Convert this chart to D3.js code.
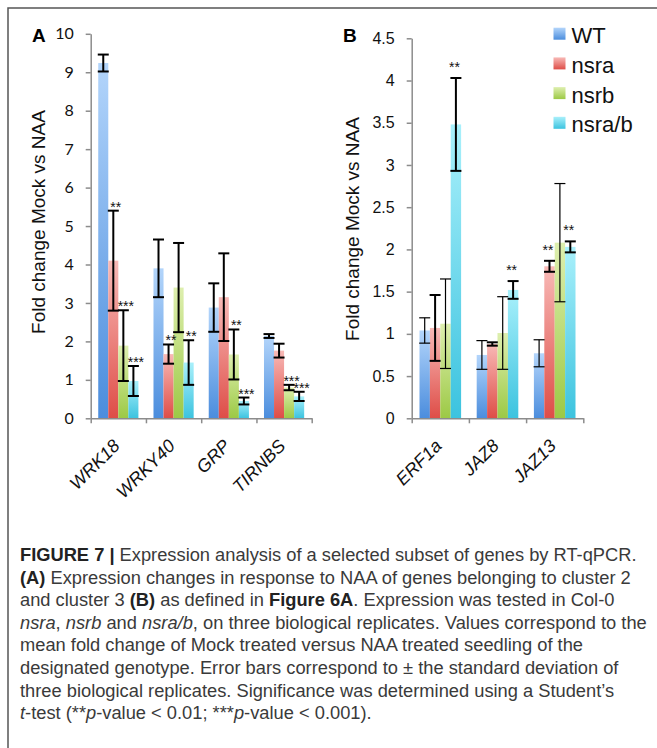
<!DOCTYPE html>
<html>
<head>
<meta charset="utf-8">
<script src="https://cdn.jsdelivr.net/npm/d3@7/dist/d3.min.js"></script>
<style>
  body { margin: 0; background: #fff; }
  svg text { font-family: "Liberation Sans", Arial, sans-serif; }
</style>
</head>
<body>
<svg id="fig" width="657" height="748"></svg>
<script>
// genotypes (legend order)
var series = ['WT', 'nsra', 'nsrb', 'nsra/b']

// panel A - cluster 2
var genesA = ['WRK18', 'WRKY40', 'GRP', 'TIRNBS']
var wtA    = [9.24, 3.90, 2.88, 2.14]
var nsraA  = [4.10, 1.67, 3.15, 1.76]
var nsrbA  = [1.89, 3.40, 1.66, 0.80]
var nsrabA = [0.97, 1.45, 0.45, 0.57]
var wtErrA    = [0.22, 0.75, 0.63, 0.05]
var nsraErrA  = [1.30, 0.25, 1.14, 0.18]
var nsrbErrA  = [0.92, 1.16, 0.65, 0.07]
var nsrabErrA = [0.39, 0.58, 0.09, 0.12]
var wtSigA    = ['', '', '', '']
var nsraSigA  = ['**', '**', '', '']
var nsrbSigA  = ['***', '', '**', '***']
var nsrabSigA = ['***', '**', '***', '***']
var ticksA = [0, 1, 2, 3, 4, 5, 6, 7, 8, 9, 10]

// panel B - cluster 3
var genesB = ['ERF1a', 'JAZ8', 'JAZ13']
var wtB    = [1.04, 0.75, 0.77]
var nsraB  = [1.07, 0.88, 1.80]
var nsrbB  = [1.12, 1.01, 2.08]
var nsrabB = [3.48, 1.52, 2.03]
var wtErrB    = [0.15, 0.17, 0.16]
var nsraErrB  = [0.39, 0.02, 0.065]
var nsrbErrB  = [0.53, 0.43, 0.70]
var nsrabErrB = [0.55, 0.105, 0.065]
var wtSigB    = ['', '', '']
var nsraSigB  = ['', '', '**']
var nsrbSigB  = ['', '', '']
var nsrabSigB = ['**', '**', '**']
var ticksB = [0, 0.5, 1, 1.5, 2, 2.5, 3, 3.5, 4, 4.5]

// bar fills: light top -> dark bottom
var gradColors = [
  ['#b3d5fb', '#4b8ddd'],
  ['#f8b9b6', '#de4d47'],
  ['#deefaf', '#9cc945'],
  ['#a9f0fb', '#3cc3df']
]

var svg = d3.select('#fig')

svg.append('rect').attr('width', 657).attr('height', 748).attr('fill', '#fff')

var defs = svg.append('defs')
gradColors.forEach(function(c, i) {
  var g = defs.append('linearGradient')
    .attr('id', 'grad' + i)
    .attr('x1', 0).attr('y1', 0).attr('x2', 0).attr('y2', 1)
  g.append('stop').attr('offset', '0%').attr('stop-color', c[0])
  g.append('stop').attr('offset', '100%').attr('stop-color', c[1])
})

// frame (top and left only)
svg.append('path')
  .attr('d', 'M8,748 L8,8 L657,8')
  .attr('fill', 'none')
  .attr('stroke', '#555')
  .attr('stroke-width', 1.5)

function drawPanel(p) {
  var g = svg.append('g')

  var x0 = d3.scaleBand().domain(p.genes).range([p.left, p.right])
  var x1 = d3.scaleBand().domain(series).range([0, x0.bandwidth()]).paddingOuter(0.75)
  var xEdge = d3.scaleLinear().domain([0, p.genes.length]).range([p.left, p.right])
  var y = d3.scaleLinear().domain([0, p.ymax]).range([p.bottom, p.top])

  // bars
  p.vals.forEach(function(vals, s) {
    g.append('g').selectAll('rect')
      .data(vals)
      .enter().append('rect')
      .attr('x', function(d, i) { return x0(p.genes[i]) + x1(series[s]) })
      .attr('width', x1.bandwidth())
      .attr('y', function(d) { return y(d) })
      .attr('height', function(d) { return y(0) - y(d) })
      .attr('fill', 'url(#grad' + s + ')')
  })

  // axes
  var yAxis = g.append('g')
    .attr('transform', 'translate(' + p.left + ',0)')
    .call(d3.axisLeft(y).tickValues(p.ticks).tickSize(5).tickSizeOuter(0).tickPadding(12)
      .tickFormat(function(d) { return d }))
  yAxis.select('.domain').attr('stroke', '#8c8c8c').attr('stroke-width', 1.5)
  yAxis.selectAll('.tick line').attr('stroke', '#8c8c8c').attr('stroke-width', 1.5)
  yAxis.selectAll('.tick text')
    .attr('fill', '#111')
    .style('font-size', '16px')
    .style('font-family', p.tickFont)

  var xAxis = g.append('g')
    .attr('transform', 'translate(0,' + p.bottom + ')')
    .call(d3.axisBottom(xEdge).tickValues(d3.range(p.genes.length + 1)).tickSize(5)
      .tickSizeOuter(0).tickFormat(''))
  xAxis.select('.domain').attr('stroke', '#8c8c8c').attr('stroke-width', 1.5)
  xAxis.selectAll('.tick line').attr('stroke', '#8c8c8c').attr('stroke-width', 1.5)

  // error bars + significance stars
  p.vals.forEach(function(vals, s) {
    var eg = g.append('g')
      .attr('stroke', '#000')
      .attr('stroke-width', p.errStroke[s])
      .attr('fill', 'none')
    vals.forEach(function(v, i) {
      var cx = x0(p.genes[i]) + x1(series[s]) + x1.bandwidth() / 2
      var e = p.errs[s][i]
      var hi = y(v + e), lo = y(v - e)
      eg.append('line').attr('x1', cx).attr('x2', cx).attr('y1', hi).attr('y2', lo)
      eg.append('line').attr('x1', cx - 5.5).attr('x2', cx + 5.5).attr('y1', hi).attr('y2', hi)
      eg.append('line').attr('x1', cx - 5.5).attr('x2', cx + 5.5).attr('y1', lo).attr('y2', lo)

      if (p.sigs[s][i]) {
        g.append('text')
          .attr('x', cx + p.starDx)
          .attr('y', hi + p.starDy)
          .attr('text-anchor', 'middle')
          .attr('fill', '#111')
          .style('font-size', '14px')
          .text(p.sigs[s][i])
      }
    })
  })

  // gene labels
  g.append('g').selectAll('text')
    .data(p.genes)
    .enter().append('text')
    .attr('transform', function(d) {
      return 'translate(' + (x0(d) + x0.bandwidth() / 2 + 2.5) + ',447) rotate(-45)'
    })
    .attr('text-anchor', 'end')
    .style('font-size', '18px')
    .style('font-style', 'italic')
    .attr('fill', '#111')
    .text(function(d) { return d })

  // axis title
  g.append('text')
    .attr('transform', 'translate(' + p.titleX + ',' + p.titleY + ') rotate(-90)')
    .attr('text-anchor', 'middle')
    .style('font-size', '19px')
    .attr('fill', '#111')
    .text('Fold change Mock vs NAA')

  // panel letter
  g.append('text')
    .attr('x', p.letterX)
    .attr('y', 41.5)
    .style('font-size', '19px')
    .style('font-weight', 'bold')
    .attr('fill', '#000')
    .text(p.letter)
}

drawPanel({
  letter: 'A', letterX: 32,
  genes: genesA,
  vals: [wtA, nsraA, nsrbA, nsrabA],
  errs: [wtErrA, nsraErrA, nsrbErrA, nsrabErrA],
  sigs: [wtSigA, nsraSigA, nsrbSigA, nsrabSigA],
  ymax: 10, ticks: ticksA,
  left: 90.7, right: 311.7, top: 33.8, bottom: 418.3,
  tickFont: 'Lato, "Liberation Sans", sans-serif',
  errStroke: [2, 2, 2, 2],
  starDx: 2.5, starDy: 1,
  titleX: 45, titleY: 222
})

drawPanel({
  letter: 'B', letterX: 343,
  genes: genesB,
  vals: [wtB, nsraB, nsrbB, nsrabB],
  errs: [wtErrB, nsraErrB, nsrbErrB, nsrabErrB],
  sigs: [wtSigB, nsraSigB, nsrbSigB, nsrabSigB],
  ymax: 4.5, ticks: ticksB,
  left: 411.7, right: 583.3, top: 38.3, bottom: 418.3,
  tickFont: '"Liberation Sans", Arial, sans-serif',
  errStroke: [1.2, 2, 1.2, 2],
  starDx: -1.5, starDy: -6,
  titleX: 358.5, titleY: 229
})

// legend
var legend = svg.append('g').selectAll('g')
  .data(series)
  .enter().append('g')
  .attr('transform', function(d, i) { return 'translate(553.5,' + (27.7 + i * 29.7) + ')' })
legend.append('rect')
  .attr('width', 12).attr('height', 12)
  .attr('fill', function(d, i) { return 'url(#grad' + i + ')' })
legend.append('text')
  .attr('x', 18).attr('y', 15.6)
  .style('font-size', '22px')
  .attr('fill', '#111')
  .text(function(d) { return d })

// caption
var caption = [
  [['FIGURE 7 |', 'b'], [' Expression analysis of a selected subset of genes by RT-qPCR.']],
  [['(A)', 'b'], [' Expression changes in response to NAA of genes belonging to cluster 2']],
  [['and cluster 3 '], ['(B)', 'b'], [' as defined in '], ['Figure 6A', 'b'], ['. Expression was tested in Col-0']],
  [['nsra', 'i'], [', '], ['nsrb', 'i'], [' and '], ['nsra/b', 'i'], [', on three biological replicates. Values correspond to the']],
  [['mean fold change of Mock treated versus NAA treated seedling of the']],
  [['designated genotype. Error bars correspond to \u00b1 the standard deviation of']],
  [['three biological replicates. Significance was determined using a Student\u2019s']],
  [['t', 'i'], ['-test (**'], ['p', 'i'], ['-value < 0.01; ***'], ['p', 'i'], ['-value < 0.001).']]
]

var cap = svg.append('g').attr('fill', '#3a3a3a').style('font-size', '16px')
var capLines = cap.selectAll('text')
  .data(caption)
  .enter().append('text')
  .attr('x', 20)
  .attr('y', function(d, i) { return 561 + i * 22.6 })
capLines.each(function(runs) {
  var t = d3.select(this)
  runs.forEach(function(r) {
    var ts = t.append('tspan').text(r[0])
    if (r[1] == 'b') ts.style('font-weight', 'bold').attr('fill', '#222')
    if (r[1] == 'i') ts.style('font-style', 'italic')
  })
})
// fit first line width to the reference
var w = capLines.node().getComputedTextLength()
cap.style('font-size', (16 * 617 / w) + 'px')
</script>
</body>
</html>
